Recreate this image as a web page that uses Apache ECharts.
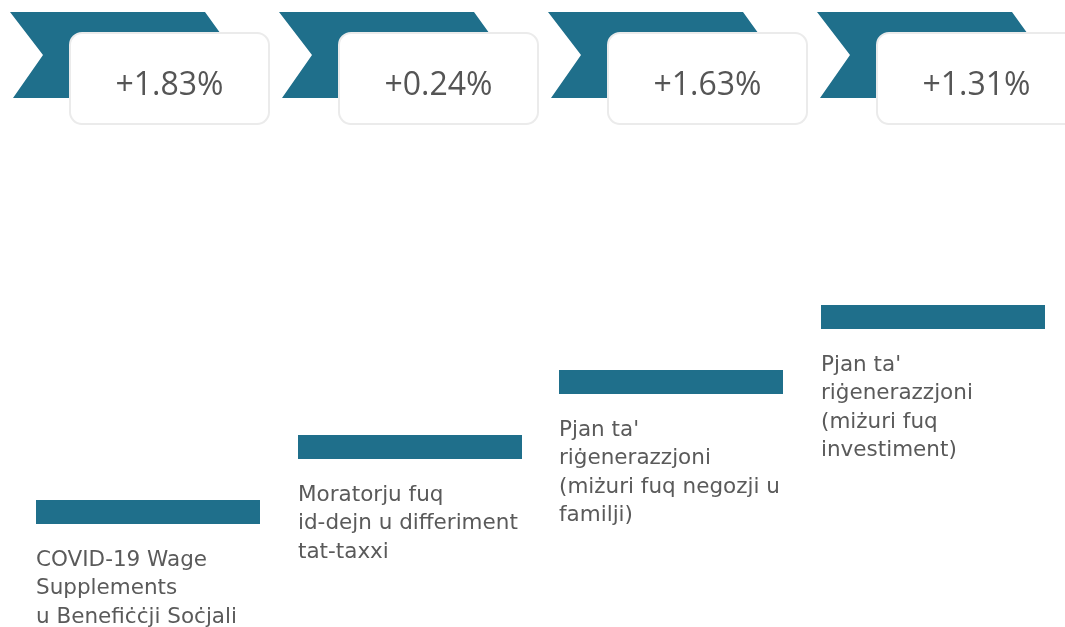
<!DOCTYPE html>
<html><head><meta charset="utf-8">
<script src="https://cdn.jsdelivr.net/npm/echarts@6/dist/echarts.min.js"></script>
<style>html,body{margin:0;padding:0;background:#fff}#c{width:1065px;height:627px}</style>
</head><body><div id="c"></div>
<script>
// Data
const categories = [
  'COVID-19 Wage\nSupplements\nu Benefiċċji Soċjali',
  'Moratorju fuq\nid-dejn u differiment\ntat-taxxi',
  "Pjan ta'\nriġenerazzjoni\n(miżuri fuq negozji u\nfamilji)",
  "Pjan ta'\nriġenerazzjoni\n(miżuri fuq\ninvestiment)"
];
const changes = [1.83, 0.24, 1.63, 1.31];
const changeLabels = ['+1.83%', '+0.24%', '+1.63%', '+1.31%'];
const levels = [1, 2, 3, 4];
const positions = [0, 1, 2, 3];

const TEAL = '#1f6f8b';
const TEXT = '#5a5a5a';
const NUM_FONT = 'Open Sans';
const LABEL_FONT = 'DejaVu Sans';

const chart = echarts.init(document.getElementById('c'), null, { renderer: 'canvas' });
chart.setOption({
  animation: false,
  grid: [
    { left: 10, right: 0, top: 0, height: 110 },
    { left: 36, right: 0, top: 57, height: 520 }
  ],
  xAxis: [
    { type: 'value', gridIndex: 0, min: 0, max: 1055 / 269, show: false },
    { type: 'value', gridIndex: 1, min: 0, max: 1029 / 261.5, show: false }
  ],
  yAxis: [
    { type: 'value', gridIndex: 0, min: 0, max: 2, show: false },
    { type: 'value', gridIndex: 1, min: 0, max: 8, show: false }
  ],
  series: [
    {
      type: 'custom', xAxisIndex: 0, yAxisIndex: 0, clip: false,
      data: changes.map((v, i) => [positions[i], v]),
      renderItem: (params, api) => {
        const x0 = api.coord([api.value(0), 0])[0];
        return {
          type: 'group',
          children: [
            { type: 'polygon', shape: { points: [[x0, 12], [x0 + 195, 12], [x0 + 226, 55], [x0 + 195, 98], [x0 + 3, 98], [x0 + 33, 55]] },
              style: { fill: TEAL } },
            { type: 'rect', shape: { x: x0 + 60, y: 33, width: 199, height: 91, r: 12 },
              style: { fill: '#ffffff', stroke: '#ebebeb', lineWidth: 2 } },
            { type: 'text', x: x0 + 159.5, y: 86,
              style: { text: changeLabels[params.dataIndex], fill: '#555555', font: '400 32px "' + NUM_FONT + '"', align: 'center', verticalAlign: 'middle' } }
          ]
        };
      }
    },
    {
      type: 'custom', xAxisIndex: 1, yAxisIndex: 1, clip: false,
      data: levels.map((v, i) => [positions[i], v]),
      renderItem: (params, api) => {
        const c = api.coord([api.value(0), api.value(1)]);
        const xs = Math.round(c[0]);
        const yc = Math.round(c[1]);
        return {
          type: 'group',
          children: [
            { type: 'rect', shape: { x: xs, y: yc - 12, width: 224, height: 24 }, style: { fill: TEAL } },
            { type: 'text', x: xs, y: yc + 12 + 22,
              style: { text: categories[params.dataIndex], fill: TEXT, fontFamily: LABEL_FONT, fontSize: 21.5, lineHeight: 28.5, align: 'left', verticalAlign: 'top' } }
          ]
        };
      }
    }
  ]
});
</script>
</body></html>
